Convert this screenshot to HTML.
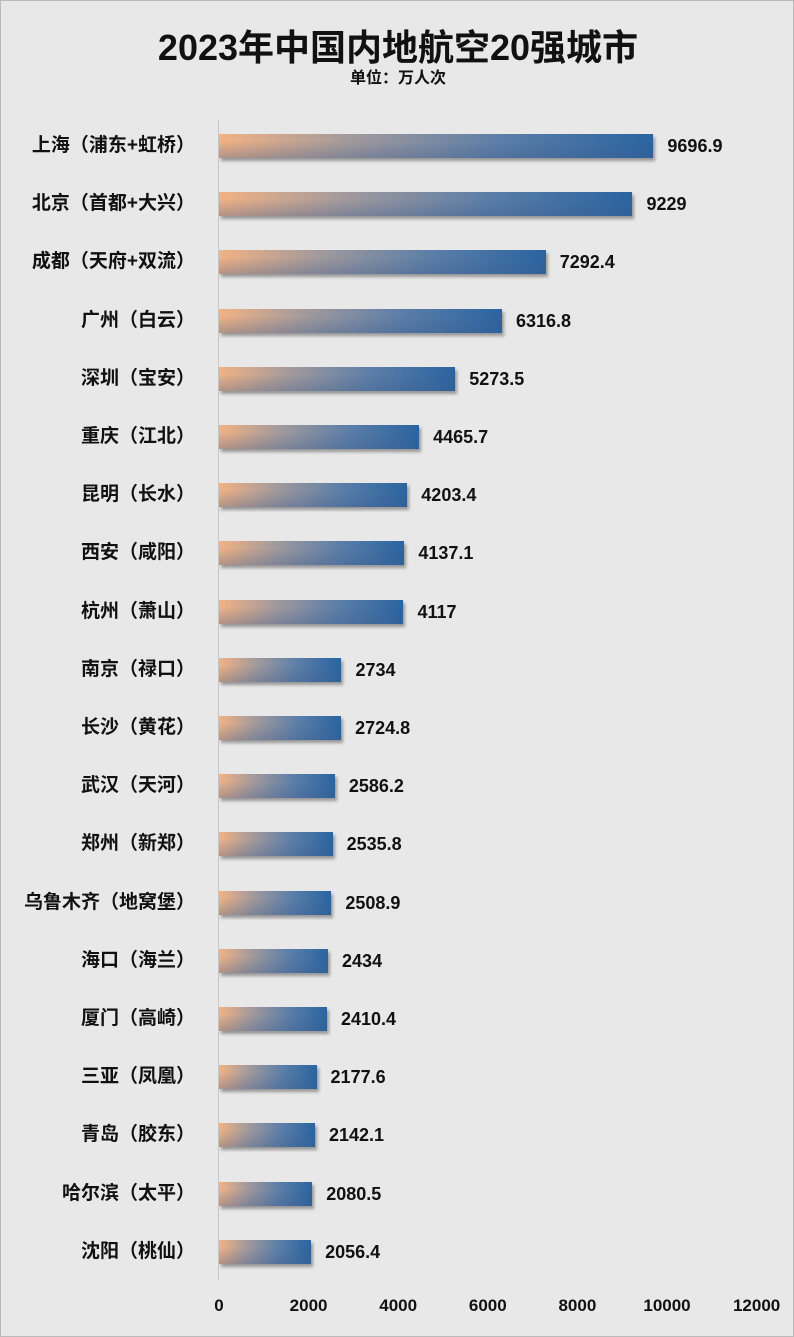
<!DOCTYPE html>
<html><head><meta charset="utf-8"><style>
body{margin:0;background:#fff}
#c{position:relative;width:792px;height:1335px;background:#e8e8e8;border:1px solid #bbb;font-family:"Liberation Sans","Noto Sans CJK SC",sans-serif;overflow:hidden}
.t{position:absolute;left:0;width:794px;text-align:center;font-weight:bold;color:#111}
.lab{position:absolute;right:598px;font-size:19px;font-weight:bold;color:#111;white-space:nowrap;line-height:24px}
.bar{position:absolute;left:218px;height:24px;background:linear-gradient(to bottom,rgba(60,90,140,0) 30%,rgba(60,90,140,0.35) 100%),linear-gradient(90deg,#f2b283 0%,#a39a9c 30%,#5b7ea8 65%,#2a64a0 100%);box-shadow:2px 3px 3px rgba(0,0,0,0.35)}
.v{position:absolute;font-size:18px;font-weight:bold;color:#111;line-height:24px}
.tk{position:absolute;top:1295px;font-size:17px;font-weight:bold;color:#111;transform:translateX(-50%)}
</style></head><body><div id="c">
<div class="t" style="top:18px;font-size:36px">2023年中国内地航空20强城市</div>
<div class="t" style="top:63px;font-size:16px">单位：万人次</div>
<div style="position:absolute;left:217px;top:118px;width:1px;height:1162px;background:#c8c8c8"></div>
<div id="bars"></div>
</div>
<script>
var d=[["上海（浦东+虹桥）",9696.9],["北京（首都+大兴）",9229],["成都（天府+双流）",7292.4],["广州（白云）",6316.8],["深圳（宝安）",5273.5],["重庆（江北）",4465.7],["昆明（长水）",4203.4],["西安（咸阳）",4137.1],["杭州（萧山）",4117],["南京（禄口）",2734],["长沙（黄花）",2724.8],["武汉（天河）",2586.2],["郑州（新郑）",2535.8],["乌鲁木齐（地窝堡）",2508.9],["海口（海兰）",2434],["厦门（高崎）",2410.4],["三亚（凤凰）",2177.6],["青岛（胶东）",2142.1],["哈尔滨（太平）",2080.5],["沈阳（桃仙）",2056.4]];
var h="",k=0.0448;
d.forEach(function(r,i){var y=133+i*58.2,w=r[1]*k;
h+='<div class="lab" style="top:'+y+'px">'+r[0]+'</div><div class="bar" style="top:'+y+'px;width:'+w+'px"></div><div class="v" style="top:'+y+'px;left:'+(218+w+14)+'px">'+r[1]+'</div>';});
for(var t=0;t<=12000;t+=2000)h+='<div class="tk" style="left:'+(218+t*k)+'px">'+t+'</div>';
document.getElementById("bars").innerHTML=h;
</script>
</body></html>
